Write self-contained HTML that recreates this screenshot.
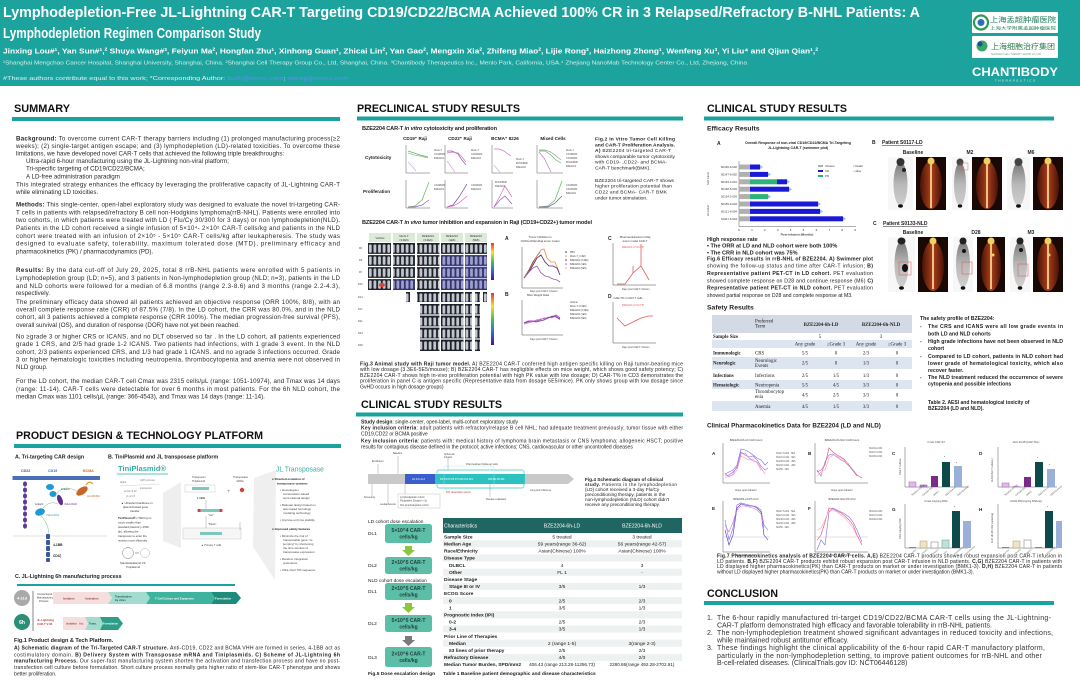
<!DOCTYPE html>
<html><head><meta charset="utf-8">
<style>
html,body{margin:0;padding:0;background:#fff;}
body{width:1080px;height:694px;overflow:hidden;}
svg{display:block;font-family:"Liberation Sans",Arial,sans-serif;}
.cjk{font-family:"Liberation Sans","Noto Sans CJK SC",sans-serif;}
.serif{font-family:"Liberation Serif",serif;}
</style></head><body>
<svg width="1080" height="694" viewBox="0 0 1080 694" xmlns="http://www.w3.org/2000/svg">
<defs>
<linearGradient id="cbar" x1="0" y1="0" x2="0" y2="1">
<stop offset="0" stop-color="#e8382c"/><stop offset=".25" stop-color="#f5e02a"/><stop offset=".5" stop-color="#4cc24c"/><stop offset=".75" stop-color="#2a6ee0"/><stop offset="1" stop-color="#3a1a8a"/></linearGradient>
<pattern id="m1" x="368" y="243" width="4.6" height="12" patternUnits="userSpaceOnUse"><rect width="4.6" height="12" fill="#1f222a"/><rect x=".9" y="1.4" width="2.8" height="8.4" rx="1.3" fill="#c0c5ce"/></pattern>
<pattern id="m2" x="368" y="292" width="4.6" height="12" patternUnits="userSpaceOnUse"><rect width="4.6" height="12" fill="#1f222a"/><rect x=".9" y="1.4" width="2.8" height="8.4" rx="1.3" fill="#c0c5ce"/></pattern>
<linearGradient id="gb" x1="0" y1="0" x2="0" y2="1"><stop offset="0" stop-color="#777"/><stop offset=".5" stop-color="#b8b8b8"/><stop offset="1" stop-color="#cfcfcf"/></linearGradient>
<linearGradient id="rb" x1="0" y1="0" x2="1" y2="0"><stop offset="0" stop-color="#4a1206"/><stop offset=".5" stop-color="#a8401c"/><stop offset="1" stop-color="#4a1206"/></linearGradient>
</defs>

<!-- HEADER -->
<rect x="0" y="0" width="1080" height="86" fill="#1ca39e"/>
<text x="3" y="17" font-size="14.5" font-weight="bold" fill="#fff" textLength="917" lengthAdjust="spacingAndGlyphs">Lymphodepletion-Free JL-Lightning CAR-T Targeting CD19/CD22/BCMA Achieved 100% CR in 3 Relapsed/Refractory B-NHL Patients: A</text>
<text x="3" y="38" font-size="14.5" font-weight="bold" fill="#fff" textLength="258" lengthAdjust="spacingAndGlyphs">Lymphodepletion Regimen Comparison Study</text>
<text x="3" y="53.5" font-size="7.6" font-weight="bold" fill="#fff" textLength="815" lengthAdjust="spacingAndGlyphs">Jinxing Lou#¹, Yan Sun#¹,² Shuya Wang#³, Feiyun Ma², Hongfan Zhu¹, Xinhong Guan¹, Zhicai Lin², Yan Gao², Mengxin Xia², Zhifeng Miao², Lijie Rong³, Haizhong Zhong¹, Wenfeng Xu³, Yi Liu⁴ and Qijun Qian¹,²</text>
<text x="3" y="64.5" font-size="5.2" fill="#d6efec" textLength="744" lengthAdjust="spacingAndGlyphs">¹Shanghai Mengchao Cancer Hospital, Shanghai University, Shanghai, China. ²Shanghai Cell Therapy Group Co., Ltd, Shanghai, China. ³Chantibody Therapeutics Inc., Menlo Park, California, USA.⁴ Zhejiang NanoMab Technology Center Co., Ltd, Zhejiang, China</text>
<text x="3" y="80" font-size="5.2" fill="#e0f3f1" textLength="345" lengthAdjust="spacingAndGlyphs">#These authors contribute equal to this work; *Corresponding Author: <tspan fill="#5d8ff0">liuxh@xxxxx.com</tspan>; <tspan fill="#5d8ff0">qianqj@xxxxx.com</tspan></text>
<!-- logos -->
<rect x="972" y="12" width="86" height="21" fill="#fff" rx="1"/>
<circle cx="981" cy="22.5" r="7" fill="none" stroke="#2a9a5a" stroke-width="2.2"/>
<circle cx="981" cy="22.5" r="3.5" fill="#2c6fb5"/>
<text x="990" y="22" font-size="7" fill="#1b7a55" class="cjk" textLength="66" lengthAdjust="spacingAndGlyphs">上海孟超肿瘤医院</text>
<text x="990" y="29.5" font-size="4" fill="#1b7a55" class="cjk" textLength="66" lengthAdjust="spacingAndGlyphs">上海大学附属孟超肿瘤医院</text>
<rect x="972" y="36" width="86" height="22" fill="#fff" rx="1"/>
<circle cx="982" cy="46" r="5.5" fill="#3aa66a"/><circle cx="980" cy="44" r="2.5" fill="#1f4f8f"/>
<text x="991" y="49" font-size="7.5" fill="#2a7a4a" class="cjk" textLength="64" lengthAdjust="spacingAndGlyphs">上海细胞治疗集团</text>
<text x="991" y="55" font-size="3" fill="#6a9a7a" textLength="50" lengthAdjust="spacingAndGlyphs">SHANGHAI CELL THERAPY GROUP CO.,LTD</text>
<text x="972" y="76" font-size="11.5" font-weight="bold" fill="#fff" textLength="86" lengthAdjust="spacingAndGlyphs">CHANTIBODY</text>
<text x="995" y="81.5" font-size="3" fill="#e6f6f4" textLength="40" lengthAdjust="spacing">THERAPEUTICS</text>

<!-- SECTION HEADINGS -->
<g font-weight="bold" font-size="11" fill="#111">
<text x="14" y="112" textLength="56" lengthAdjust="spacingAndGlyphs">SUMMARY</text>
<text x="16" y="439" textLength="247" lengthAdjust="spacingAndGlyphs">PRODUCT DESIGN &amp; TECHNOLOGY PLATFORM</text>
<text x="357" y="112" textLength="163" lengthAdjust="spacingAndGlyphs">PRECLINICAL STUDY RESULTS</text>
<text x="361" y="408" textLength="141" lengthAdjust="spacingAndGlyphs">CLINICAL STUDY RESULTS</text>
<text x="707" y="112" textLength="140" lengthAdjust="spacingAndGlyphs">CLINICAL STUDY RESULTS</text>
<text x="707" y="597" textLength="71" lengthAdjust="spacingAndGlyphs">CONCLUSION</text>
</g>
<g fill="#1aa39e">
<rect x="12" y="117" width="328" height="4"/>
<rect x="14" y="444" width="327" height="4"/>
<rect x="357" y="116.5" width="326" height="4"/>
<rect x="356" y="412.5" width="327" height="4"/>
<rect x="704" y="116.5" width="350" height="4"/>
<rect x="704" y="601" width="350" height="4"/>
</g>

<!-- SUMMARY TEXT -->
<g font-size="6.2" fill="#2a2a2a">
<text x="16" y="140.5" textLength="324" lengthAdjust="spacing"><tspan font-weight="bold">Background:</tspan> To overcome current CAR-T therapy barriers including (1) prolonged manufacturing process(≥2</text>
<text x="16" y="148.2" textLength="324" lengthAdjust="spacing">weeks); (2) single-target antigen escape; and (3) lymphodepletion (LD)-related toxicities. To overcome these</text>
<text x="16" y="155.5">limitations, we have developed novel CAR-T cells that achieved the following triple breakthroughs:</text>
<text x="26" y="162.9">Ultra-rapid 6-hour manufacturing using the JL-Lightning non-viral platform;</text>
<text x="26" y="170.5">Tri-specific targeting of CD19/CD22/BCMA;</text>
<text x="26" y="178.5">A LD-free administration paradigm</text>
<text x="16" y="186.5" textLength="324" lengthAdjust="spacing">This integrated strategy enhances the efficacy by leveraging the proliferative capacity of JL-Lightning CAR-T</text>
<text x="16" y="193.9">while eliminating LD toxicities.</text>

<text x="16" y="206.5" textLength="324" lengthAdjust="spacing"><tspan font-weight="bold">Methods:</tspan> This single-center, open-label exploratory study was designed to evaluate the novel tri-targeting CAR-</text>
<text x="16" y="214.4" textLength="324" lengthAdjust="spacing">T cells in patients with relapsed/refractory B cell non-Hodgkins lymphoma(rrB-NHL). Patients were enrolled into</text>
<text x="16" y="222.2" textLength="324" lengthAdjust="spacing">two cohorts, in which patients were treated with LD ( Flu/Cy 30/300 for 3 days) or non lymphodepletion(NLD).</text>
<text x="16" y="230" textLength="324" lengthAdjust="spacing">Patients in the LD cohort received a single infusion of 5×10⁴- 2×10⁵ CAR-T cells/kg and patients in the NLD</text>
<text x="16" y="237.9" textLength="324" lengthAdjust="spacing">cohort were treated with an infusion of 2×10⁵ - 5×10⁵ CAR-T cells/kg after leukapheresis. The study was</text>
<text x="16" y="245.7" textLength="324" lengthAdjust="spacing">designed to evaluate safety, tolerability, maximum tolerated dose (MTD), preliminary efficacy and</text>
<text x="16" y="253.5">pharmacokinetics (PK) / pharmacodynamics (PD).</text>

<text x="16" y="272.2" textLength="324" lengthAdjust="spacing"> <tspan font-weight="bold">Results:</tspan> By the data cut-off of July 29, 2025, total 8 rrB-NHL patients were enrolled with 5 patients in</text>
<text x="16" y="280" textLength="324" lengthAdjust="spacing">Lymphodepletion group (LD; n=5), and 3 patients in Non-lymphodepletion group (NLD; n=3), patients in the LD</text>
<text x="16" y="287.9" textLength="324" lengthAdjust="spacing">and NLD cohorts were followed for a median of 6.8 months (range 2.3-8.6) and 3 months (range 2.2-4.3),</text>
<text x="16" y="295.2">respectively.</text>

<text x="16" y="303.9" textLength="324" lengthAdjust="spacing">The preliminary efficacy data showed all patients achieved an objective response (ORR 100%, 8/8), with an</text>
<text x="16" y="311.5" textLength="324" lengthAdjust="spacing">overall complete response rate (CRR) of 87.5% (7/8). In the LD cohort, the CRR was 80.0%, and in the NLD</text>
<text x="16" y="319.2" textLength="324" lengthAdjust="spacing">cohort, all 3 patients achieved a complete response (CRR 100%). The median progression-free survival (PFS),</text>
<text x="16" y="326.9">overall survival (OS), and duration of response (DOR) have not yet been reached.</text>

<text x="16" y="338.5" textLength="324" lengthAdjust="spacing">No ≥grade 3 or higher CRS or ICANS, and no DLT observed so far . In the LD cohort, all patients experienced</text>
<text x="16" y="346.2" textLength="324" lengthAdjust="spacing">grade 1 CRS, and 2/5 had grade 1-2 ICANS. Two patients had infections, with 1 grade 3 event. In the NLD</text>
<text x="16" y="353.9" textLength="324" lengthAdjust="spacing">cohort, 2/3 patients experienced CRS, and 1/3 had grade 1 ICANS. and no ≥grade 3 infections occurred. Grade</text>
<text x="16" y="361.5" textLength="324" lengthAdjust="spacing">3 or higher hematologic toxicities including neutropenia, thrombocytopenia and anemia were not observed in</text>
<text x="16" y="369.2">NLD group.</text>

<text x="16" y="383.2" textLength="324" lengthAdjust="spacing">For the LD cohort, the median CAR-T cell Cmax was 2315 cells/μL (range: 1051-10974), and Tmax was 14 days</text>
<text x="16" y="390.9" textLength="324" lengthAdjust="spacing">(range: 11-14). CAR-T cells were detectable for over 6 months in most patients. For the 6h NLD cohort, the</text>
<text x="16" y="398.5">median Cmax was 1101 cells/μL (range: 366-4543), and Tmax was 14 days (range: 11-14).</text>
</g>

<!-- PRODUCT DESIGN FIGURE -->
<g font-weight="bold" font-size="5.3" fill="#222">
<text x="15" y="458.5">A.  Tri-targeting CAR design</text>
<text x="108" y="458.5">B.  TiniPlasmid and JL transposase platform</text>
<text x="15" y="578">C.  JL-Lightning 6h manufacturing process</text>
</g>
<line x1="13" y1="536" x2="107" y2="536" stroke="#e2e2e2" stroke-width="1"/>
<rect x="12.5" y="476" width="87.5" height="4" fill="#4a6fb8"/>
<text x="21" y="472" font-size="3.6" fill="#6a3aa0" font-weight="bold">CD22</text>
<text x="48" y="472" font-size="3.6" fill="#3a6ac0" font-weight="bold">CD19</text>
<text x="83" y="472" font-size="3.6" fill="#d06a20" font-weight="bold">BCMA</text>
<g fill="#5a3a9c">
<ellipse cx="25" cy="484" rx="2" ry="2.6"/><ellipse cx="25" cy="490" rx="2" ry="2.6"/><ellipse cx="25" cy="496" rx="2" ry="2.6"/><ellipse cx="25" cy="502" rx="2" ry="2.6"/><ellipse cx="25" cy="508" rx="2" ry="2.6"/><ellipse cx="25" cy="514" rx="2" ry="2.6"/><ellipse cx="25" cy="520" rx="2" ry="2.6"/><ellipse cx="25" cy="526" rx="2" ry="2.6"/>
</g>
<ellipse cx="50" cy="487" rx="4" ry="3" fill="#1e9ad6"/>
<ellipse cx="53" cy="494" rx="3.5" ry="3" fill="#1e9ad6"/>
<ellipse cx="60" cy="500" rx="2.5" ry="5.5" fill="#5b2d8c" transform="rotate(-20 60 500)"/>
<ellipse cx="82" cy="491" rx="6.5" ry="3.5" fill="#c8662a" transform="rotate(-35 82 491)"/>
<path d="M86 485 q3 -5 7 -1" stroke="#e0a030" stroke-width="1.2" fill="none"/>
<ellipse cx="40" cy="512" rx="5" ry="3.5" fill="#1e9ad6" transform="rotate(-20 40 512)"/>
<path d="M55 497 Q62 482 78 492 M43 508 Q50 500 58 504 M40 515 Q50 525 48 534" stroke="#8ec9a8" stroke-width=".6" fill="none"/>
<text x="61" y="490" font-size="2.6" fill="#333">Linker2</text>
<text x="35" y="505" font-size="2.6" fill="#333">Linker1</text>
<text x="87" y="497" font-size="2.6" fill="#c8662a">Anti-BCMA</text>
<text x="64" y="505" font-size="2.6" fill="#5b2d8c">VHH-CD22</text>
<text x="46" y="516" font-size="2.6" fill="#1e9ad6">VHH-CD19</text>
<g fill="#3a5a9c"><rect x="46" y="534" width="4" height="5" rx="1"/><rect x="46" y="540" width="4" height="5" rx="1"/><rect x="46" y="546" width="4" height="5" rx="1"/><rect x="46" y="552" width="4" height="5" rx="1"/><rect x="46" y="558" width="4" height="4" rx="1"/></g>
<text x="53" y="546" font-size="3.3" fill="#223" font-weight="bold">4-1BB</text>
<text x="53" y="557" font-size="3.3" fill="#223" font-weight="bold">CD3ζ</text>
<text x="118" y="471" font-size="7.5" fill="#37aca2" font-weight="bold" textLength="48" lengthAdjust="spacingAndGlyphs">TiniPlasmid®</text>
<line x1="117" y1="474" x2="168" y2="474" stroke="#37aca2" stroke-width=".8"/>
<g font-size="2.4" fill="#777">
<text x="120" y="483">Alpha</text><text x="140" y="481">GFP promoter</text><text x="140" y="489">transposon</text>
<text x="124" y="492">a1 b2 c3  d4</text><text x="126" y="497">x1  y2  z3</text>
</g>
<line x1="120" y1="486" x2="160" y2="484" stroke="#aaa" stroke-width=".3"/>
<g font-size="2.8" fill="#333">
<text x="121" y="504">▲ Ultrashort backbone in</text><text x="123" y="508">plasmid based gene</text><text x="130" y="512">transfer</text>
<text x="118" y="519"><tspan font-weight="bold">TiniPlasmid®</tspan> (&lt;500 bp) is</text>
<text x="118" y="523.5">much smaller than</text><text x="118" y="528">standard plasmid (~1500</text><text x="118" y="532.5">bp), allowing the</text><text x="118" y="537">transposon to enter the</text><text x="118" y="541.5">nucleus more efficiently.</text>
<text x="120" y="564">Standardplasmid VS</text><text x="126" y="568">Tiniplasmid</text>
</g>
<circle cx="128" cy="553" r="5.5" fill="none" stroke="#555" stroke-width=".4"/>
<circle cx="145" cy="553" r="4.5" fill="none" stroke="#8a8" stroke-width=".4"/>
<line x1="135" y1="553" x2="139" y2="553" stroke="#555" stroke-width=".5"/>
<polygon points="163,493 181,482 181,548 163,541" fill="#eeeeee"/>
<g font-size="2.6" fill="#444">
<text x="192" y="478">Transposon</text><text x="192" y="482">Tiniplasmid</text>
<text x="233" y="478">Transposase</text><text x="236" y="482">mRNA</text>
<text x="197" y="499" font-weight="bold">1-10kb</text><text x="208" y="516">"Cut"</text><text x="208" y="525">"Paste"</text>
<text x="201" y="546">▲ Primary T cells</text>
</g>
<rect x="185" y="485" width="30" height="7" fill="#fff" stroke="#bbb" stroke-width=".4"/>
<rect x="192" y="487" width="17" height="3" fill="#7cc8bc"/>
<text x="227" y="493" font-size="6" fill="#888">+</text>
<circle cx="242" cy="490" r="2.2" fill="#d04040"/>
<line x1="206" y1="500" x2="206" y2="510" stroke="#888" stroke-width=".4"/>
<rect x="199" y="509" width="22" height="3" fill="#7cc8bc"/><circle cx="199" cy="510.5" r="1.6" fill="#d04040"/><circle cx="221" cy="510.5" r="1.6" fill="#d04040"/>
<line x1="206" y1="516" x2="206" y2="528" stroke="#888" stroke-width=".4"/>
<rect x="183" y="528" width="58" height="11" fill="#f6f6f6" stroke="#bbb" stroke-width=".4"/>
<rect x="200" y="532" width="22" height="3" fill="#7cc8bc"/>
<line x1="240" y1="522" x2="240" y2="530" stroke="#888" stroke-width=".4"/>
<polygon points="253,547 275,580 276,470 254,478" fill="#efefef"/>
<text x="276" y="471.5" font-size="7" fill="#37aca2" textLength="48" lengthAdjust="spacingAndGlyphs">JL Transposase</text>
<g font-size="3" fill="#444">
<text x="272" y="480" font-weight="bold" fill="#222">● Directed evolution of</text>
<text x="277" y="484.5" font-weight="bold" fill="#222">transposase systems</text>
<text x="280" y="491">• Homologous</text><text x="283" y="495">conservation-based</text><text x="283" y="499">semi-rational design</text>
<text x="280" y="506">• Rational design based on</text><text x="283" y="510">automated homology</text><text x="283" y="514">modeling technology</text>
<text x="280" y="521">• Improve enzyme stability</text>
<text x="272" y="530" font-weight="bold" fill="#222">● Improved safety features</text>
<text x="280" y="537">• Minimize the risk of</text><text x="283" y="541">transposable gene "re-</text><text x="283" y="545">jumping" by shortening</text><text x="283" y="549">the time window of</text><text x="283" y="553">transposase expression</text>
<text x="280" y="560">• Random integration</text><text x="283" y="564">preference</text>
<text x="280" y="571">• Ultra-short TIR sequence</text>
</g>
<rect x="17" y="584" width="218" height="2" fill="#1aa39e"/>
<line x1="33" y1="591" x2="33" y2="631" stroke="#333" stroke-width=".6"/>
<circle cx="22" cy="598" r="8" fill="#a9a9a9"/><text x="22" y="599.5" font-size="4" fill="#fff" text-anchor="middle" font-weight="bold">4-11d</text>
<circle cx="22" cy="622" r="8" fill="#2b8f78"/><text x="22" y="623.8" font-size="5" fill="#fff" text-anchor="middle" font-weight="bold">6h</text>
<g font-size="2.6" fill="#333"><text x="37" y="595">Conventional</text><text x="37" y="598.5">Manufacturing</text><text x="39" y="602">Process</text></g>
<g font-size="2.8" fill="#d03030" font-weight="bold"><text x="37" y="621">JL-Lightning</text><text x="37" y="625">CAR-T V-06</text></g>
<polygon points="53,592 108,592 112,598 108,604 53,604" fill="#f5dede"/>
<polygon points="108,592 146,592 150,598 146,604 108,604 112,598" fill="#a3dccf"/>
<polygon points="146,592 211,592 215,598 211,604 146,604 150,598" fill="#3fb39d"/>
<polygon points="211,592 236,592 241,598 236,604 211,604 215,598" fill="#1d8c7a"/>
<g font-size="2.8" fill="#8a4040" font-weight="bold"><text x="63" y="599.5">Isolation</text><text x="85" y="599.5">Activation</text></g>
<g font-size="2.8" fill="#1f4f48" font-weight="bold"><text x="115" y="597.5">Transfection</text><text x="115" y="601">by virus</text><text x="155" y="599.5" fill="#fff">T Cell Culture and Expansion</text><text x="215" y="599.5" fill="#fff">Formulation</text></g>
<polygon points="63,617 85,617 88,623.5 85,630 63,630" fill="#f5dede"/>
<polygon points="85,617 100,617 103,623.5 100,630 85,630 88,623.5" fill="#a3dccf"/>
<polygon points="100,617 118,617 123,623.5 118,630 100,630 103,623.5" fill="#2e9e88"/>
<g font-size="2.6" font-weight="bold"><text x="66" y="624.5" fill="#8a4040">Isolation</text><text x="79" y="624.5" fill="#c04040">Act.</text><text x="89" y="624.5" fill="#1f4f48">Trans.</text><text x="103" y="624.5" fill="#fff">Formulation</text></g>
<g font-size="5.1" fill="#222">
<text x="14" y="642" font-weight="bold" font-size="5.5">Fig.1 Product design &amp; Tech Platform.</text>
<text x="14" y="649.7" textLength="326" lengthAdjust="spacing"> <tspan font-weight="bold">A) Schematic diagram of the Tri-Targeted CAR-T structure.</tspan> Anti-CD19, CD22 and BCMA VHH are formed in series, 4-1BB act as</text>
<text x="14" y="656.3" textLength="326" lengthAdjust="spacing">costimulatory domain. <tspan font-weight="bold">B) Delivery System with Transposase mRNA  and Tiniplasmids.  C) Scheme of JL-Lightning 6h</tspan></text>
<text x="14" y="662.7" textLength="326" lengthAdjust="spacing"><tspan font-weight="bold">manufacturing Process.</tspan> Our super-fast manufacturing system shorten the activation and transfection process and have no post-</text>
<text x="14" y="669" textLength="326" lengthAdjust="spacing">transfection cell culture before formulation. Short culture process normally gets higher ratio of stem-like CAR-T phenotype and shows</text>
<text x="14" y="675.3">better proliferation.</text>
</g>

<!-- PRECLINICAL -->
<text x="362" y="130" font-size="5.6" font-weight="bold" fill="#222" textLength="135" lengthAdjust="spacing">BZE2204 CAR-T <tspan font-style="italic">in vitro</tspan> cytotoxicity and proliferation</text>
<g font-size="4.6" font-weight="bold" fill="#222" text-anchor="middle">
<text x="415" y="140">CD19⁺ Raji</text><text x="460" y="140">CD22⁺ Raji</text><text x="505" y="140">BCMA⁺ 8226</text><text x="553" y="140">Mixed Cells</text>
</g>
<g font-size="4.6" font-weight="bold" fill="#222"><text x="365" y="159">Cytotoxicity</text><text x="363" y="193">Proliferation</text></g>
<g stroke="#333" stroke-width=".4" fill="none">
<path d="M406 145 V173 H430 M445 145 V173 H468 M492 145 V173 H513 M537 145 V173 H563"/>
<path d="M406 180 V208 H430 M445 180 V208 H468 M492 180 V208 H513 M537 180 V208 H563"/>
</g>
<g fill="none" stroke-width=".7">
<polyline points="408,151 414,153 420,155 428,157" stroke="#5cb85c"/>
<polyline points="408,153 414,155 420,156 428,158" stroke="#8fbf8f"/>
<polyline points="408,162 412,166 416,171" stroke="#c9b0dc"/>
<polyline points="447,151 452,151 458,154 462,160 466,165" stroke="#9b59b6"/>
<polyline points="447,153 452,152 458,153 462,157 466,162" stroke="#d070c0"/>
<polyline points="447,161 452,168 455,172" stroke="#c9b0dc"/>
<polyline points="494,149 499,149 504,151 508,154 511,156" stroke="#d070c0"/>
<polyline points="494,165 498,170 500,172" stroke="#c9b0dc"/>
<polyline points="539,150 545,150 551,152 556,156 561,160" stroke="#999"/>
<polyline points="539,151 545,151 551,155 556,160 561,163" stroke="#5cb85c"/>
<polyline points="539,152 544,158 548,166 551,172" stroke="#c070d0"/>
<polyline points="408,207 415,206 422,200 429,182" stroke="#5cb85c"/>
<polyline points="408,207 415,207 422,205 429,200" stroke="#9b59b6"/>
<polyline points="447,207 453,205 459,197 467,184" stroke="#7b3fb0"/>
<polyline points="447,207 453,206 459,203 467,196" stroke="#d070c0"/>
<polyline points="494,207 500,196 505,186 512,197" stroke="#d070c0"/>
<polyline points="494,207 500,200 505,196 512,204" stroke="#9b59b6"/>
<polyline points="539,207 548,206 555,200 562,181" stroke="#5cb85c"/>
<polyline points="539,207 548,207 555,203 562,196" stroke="#7b3fb0"/>
</g>
<g font-size="2.4" fill="#555">
<text x="434" y="151">Mock-T</text><text x="434" y="155">CD19BMK</text><text x="434" y="159">BZE2204</text>
<text x="471" y="151">Mock-T</text><text x="471" y="155">CD22BMK</text><text x="471" y="159">BZE2204</text>
<text x="516" y="160">Mock-T</text><text x="516" y="164">BCMABMK</text><text x="516" y="168">BZE2204</text>
<text x="566" y="151">Mock-T</text><text x="566" y="155">CD19BMK</text><text x="566" y="159">CD22BMK</text><text x="566" y="163">BCMABMK</text><text x="566" y="167">BZE2204</text>
<text x="434" y="186">CD19BMK</text><text x="434" y="190">BZE2204</text>
<text x="471" y="186">CD22BMK</text><text x="471" y="190">BZE2204</text>
<text x="495" y="183">BCMABMK</text><text x="495" y="187">BZE2204</text>
<text x="566" y="186">CD19BMK</text><text x="566" y="190">CD22BMK</text><text x="566" y="194">BZE2204</text>
</g>
<g font-size="4.9" fill="#222">
<text x="595" y="140.3" font-weight="bold" textLength="80" lengthAdjust="spacing">Fig.2 In Vitro Tumor Cell Killing</text>
<text x="595" y="146.3" font-weight="bold" textLength="80" lengthAdjust="spacing">and CAR-T Proliferation Analysis.</text>
<text x="595" y="152" textLength="76" lengthAdjust="spacing"><tspan font-weight="bold">A)</tspan> BZE2204 tri-targeted CAR-T</text>
<text x="595" y="158" textLength="80" lengthAdjust="spacing">shows comparable tumor cytotoxicity</text>
<text x="595" y="163.7" textLength="72" lengthAdjust="spacing">with CD19- ,CD22- and BCMA-</text>
<text x="595" y="169.7">CAR-T benchmark(BMK).</text>
<text x="595" y="182" textLength="79" lengthAdjust="spacing">BZE2204 tri-targeted CAR-T shows</text>
<text x="595" y="187.7" textLength="77" lengthAdjust="spacing">higher proliferation potential than</text>
<text x="595" y="193.7" textLength="72" lengthAdjust="spacing">CD22 and BCMA- CAR-T BMK</text>
<text x="595" y="199.7">under tumor stimulation.</text>
</g>
<text x="362" y="224" font-size="5.6" font-weight="bold" fill="#222" textLength="230" lengthAdjust="spacing">BZE2204 CAR-T <tspan font-style="italic">in vivo</tspan> tumor inhibition and expansion in Raji (CD19+CD22+) tumor model</text>
<g fill="#dcebd8">
<rect x="369" y="233" width="22" height="9"/><rect x="393" y="233" width="22" height="9"/><rect x="417" y="233" width="22" height="9"/><rect x="441" y="233" width="22" height="9"/><rect x="465" y="233" width="22" height="9"/>
</g>
<g font-size="2.8" fill="#333" text-anchor="middle">
<text x="380" y="238.8">Vehicle</text><text x="404" y="237">Mock-T</text><text x="404" y="240.8">(3.3E6)</text><text x="428" y="237">BZE2204</text><text x="428" y="240.8">(3.3E6)</text><text x="452" y="237">BZE2204</text><text x="452" y="240.8">(1E6)</text><text x="476" y="237">BZE2204</text><text x="476" y="240.8">(5E5)</text>
</g>
<g fill="url(#m1)">
<rect x="368" y="243" width="23" height="47"/><rect x="393" y="243" width="22" height="47"/><rect x="417" y="243" width="22.5" height="47"/><rect x="441" y="243" width="22.5" height="47"/><rect x="465" y="243" width="22" height="47"/>
</g>
<g stroke="#fff" stroke-width="1.2"><line x1="366" y1="254.5" x2="489" y2="254.5"/><line x1="366" y1="266.5" x2="489" y2="266.5"/><line x1="366" y1="278.5" x2="489" y2="278.5"/></g>
<g fill="#5a58d8" opacity=".35"><rect x="441" y="255" width="22.5" height="35"/><rect x="465" y="255" width="22" height="35"/><rect x="393" y="279" width="22" height="11"/></g>
<ellipse cx="382" cy="285" rx="3" ry="2" fill="#e04030"/>
<g fill="url(#m2)">
<rect x="406" y="292" width="4" height="10"/>
<rect x="417" y="292" width="22.5" height="10"/><rect x="441" y="292" width="22.5" height="10"/><rect x="465" y="292" width="7" height="10"/><rect x="475" y="292" width="5" height="10"/><rect x="483" y="292" width="4" height="10"/>
<rect x="420" y="304" width="19.5" height="47"/><rect x="441" y="304" width="22.5" height="47"/><rect x="465" y="304" width="7" height="47"/><rect x="475" y="304" width="5" height="47"/>
</g>
<g stroke="#fff" stroke-width="1.2"><line x1="415" y1="303" x2="489" y2="303"/><line x1="415" y1="315" x2="489" y2="315"/><line x1="415" y1="327" x2="489" y2="327"/><line x1="415" y1="339" x2="489" y2="339"/></g>
<g font-size="2.5" fill="#444"><text x="359" y="249">D0</text><text x="359" y="261">D3</text><text x="359" y="273">D7</text><text x="358" y="285">D10</text><text x="358" y="298">D14</text><text x="358" y="310">D17</text><text x="358" y="322">D21</text><text x="358" y="334">D24</text><text x="358" y="346">D28</text></g>
<rect x="491" y="243" width="3" height="37" fill="url(#cbar)"/>
<rect x="491" y="293" width="3" height="52" fill="url(#cbar)"/>
<g font-size="5" font-weight="bold" fill="#222"><text x="505" y="240">A</text><text x="505" y="296">B</text><text x="608" y="240">C</text><text x="608" y="298">D</text></g>
<g font-size="2.8" fill="#333" text-anchor="middle"><text x="540" y="238">Tumor Inhibition in</text><text x="540" y="242">CD19+CD22+Raji tumor model</text><text x="538" y="296">Mice Weight Data</text><text x="635" y="238">Pharmacokinetics in Raji</text><text x="635" y="242">tumor model   CAR-T</text><text x="628" y="299">CAR-T% in CD3 T cells</text></g>
<g stroke="#333" stroke-width=".45" fill="none">
<path d="M522 247 V288 H563"/><path d="M522 300 V335 H563"/><path d="M613 243 V285 H656"/><path d="M613 302 V343 H656"/>
</g>
<g fill="none" stroke-width=".8">
<polyline points="524,278 529,270 533,262 537,256 540,252" stroke="#222"/>
<polyline points="524,278 529,271 533,263 537,256 541,250 544,249 547,258 551,262 555,262 559,272" stroke="#f08a3a"/>
<polyline points="524,278 529,272 533,265 537,258 541,255 545,262 549,266 553,266 557,268 560,275" stroke="#4a2a7a"/>
<polyline points="524,278 529,272 533,268 537,266 541,273 545,276 549,277 553,279 557,280 560,282" stroke="#9b59b6"/>
<polyline points="524,323 528,322 532,321 536,321 540,320 544,318 548,318 552,317 556,315 560,318" stroke="#a040c0"/>
<polyline points="524,324 528,323 532,322 536,320 540,319 544,319 548,317 552,318 556,316 560,320" stroke="#e070d0"/>
<polyline points="524,323 528,321 532,321 536,322 540,321 544,320 548,318 552,316 556,317 560,319" stroke="#6a3aa0"/>
<polyline points="617,284 625,284 633,273 641,266 649,280" stroke="#e85a5a"/>
<line x1="641" y1="244" x2="641" y2="266" stroke="#e85a5a"/><line x1="633" y1="266" x2="633" y2="273" stroke="#e85a5a"/>
<polyline points="617,318 625,326 633,322 641,318 649,316 653,316" stroke="#e85a5a"/>
</g>
<g font-size="2.4" fill="#444">
<text x="570" y="253">PBS</text><text x="570" y="257">Mock-T_3.3E6</text><text x="570" y="261">BZE2204 (3.3E6)</text><text x="570" y="265">BZE2204 (1E6)</text><text x="570" y="269">BZE2204 (5E5)</text>
<text x="570" y="303">Vehicle</text><text x="570" y="307">Mock-T (3.3E6)</text><text x="570" y="311">BZE2204 (3.3E6)</text><text x="570" y="315">BZE2204 (1E6)</text><text x="570" y="319">BZE2204 (5E5)</text>
<text x="622" y="248" fill="#e85a5a">BZE2204 (2.5×10^5)</text><text x="622" y="306" fill="#e85a5a">BZE2204 (2.5×10^5)</text>
<text x="530" y="292">Days post CAR-T infusion</text><text x="530" y="340">Days post CAR-T infusion</text>
<text x="622" y="290">Days post CAR-T infusion</text><text x="622" y="348">Days post CAR-T infusion</text>
</g>
<g fill="#333"><circle cx="566" cy="252" r=".8"/><circle cx="566" cy="256" r=".8" fill="#f08a3a"/><circle cx="566" cy="260" r=".8" fill="#4a2a7a"/><circle cx="566" cy="264" r=".8" fill="#9b59b6"/><circle cx="566" cy="268" r=".8" fill="#f0a060"/></g>
<g font-size="5.1" fill="#222">
<text x="360" y="365.3" textLength="323" lengthAdjust="spacing"><tspan font-weight="bold">Fig.3 Animal study with Raji tumor model.</tspan>  A) BZE2204 CAR-T conferred high antigen specific killing on Raji tumor-bearing mice</text>
<text x="360" y="371" textLength="323" lengthAdjust="spacing">with low dosage (3.3E6-5E5/mouse); B) BZE2204 CAR-T has negligible effects on mice weight, which shows good safety potency; C)</text>
<text x="360" y="376.8" textLength="323" lengthAdjust="spacing">BZE2204 CAR-T shows high in-vivo proliferation potential with high PK value with low dosage; D) CAR-T% in CD3 demonstrates the</text>
<text x="360" y="382.5" textLength="323" lengthAdjust="spacing">proliferation in panel C is antigen specific (Representative data from dosage 5E5/mice).   PK only shows group with low dosage since</text>
<text x="360" y="388.5">GvHD occurs in high dosage groups)</text>
</g>

<!-- CLINICAL MIDDLE -->
<g font-size="5" fill="#222">
<text x="361" y="423.5"><tspan font-weight="bold">Study design</tspan>: single-center, open-label, multi-cohort exploratory study</text>
<text x="361" y="429.5" textLength="322" lengthAdjust="spacing"><tspan font-weight="bold">Key inclusion criteria</tspan>: adult patients with refractory/relapse B cell NHL; had adequate treatment previously; tumor tissue with either</text>
<text x="361" y="435.3">CD19,CD22 or BCMA positive</text>
<text x="361" y="442.5" textLength="322" lengthAdjust="spacing"><tspan font-weight="bold">Key inclusion criteria</tspan>: patients with: medical history of lymphoma brain metastasis or CNS lymphoma; allogeneic HSCT;  positive</text>
<text x="361" y="448.5">results for contagious disease defined in the protocol; active infections; CNS, cardiovascular or other uncontrolled diseases</text>
</g>
<rect x="368" y="474" width="37" height="10" fill="#c9c9c9"/>
<rect x="405" y="474" width="30" height="10" fill="#3a5fcd"/>
<rect x="435" y="474" width="90" height="10" fill="#2cc2c0"/>
<polygon points="525,474 568,474 574,479 568,484 525,484" fill="#c9c9c9"/>
<rect x="437" y="470" width="87" height="18" rx="2" fill="none" stroke="#3cc9c4" stroke-width=".7"/>
<rect x="444" y="466" width="50" height="23" rx="1" fill="none" stroke="#9ee" stroke-width=".4"/>
<g font-size="2.4" fill="#fff"><text x="412" y="480">LD D-5~D-3</text><text x="440" y="480">D0  D1  D3  D5  D7  D10  D14  D21</text><text x="488" y="480">D28  M2  M3  M6</text></g>
<g stroke="#777" stroke-width=".35"><line x1="378" y1="474" x2="378" y2="464"/><line x1="398" y1="474" x2="398" y2="456"/><line x1="448" y1="470" x2="448" y2="458"/><line x1="372" y1="484" x2="372" y2="496"/><line x1="388" y1="484" x2="388" y2="503"/><line x1="405" y1="484" x2="405" y2="494"/><line x1="490" y1="484" x2="490" y2="497"/></g>
<g font-size="2.4" fill="#444"><text x="372" y="462">Enrollment</text><text x="393" y="454">Baseline</text><text x="444" y="455">Apheresis</text><text x="444" y="458">infusion</text><text x="466" y="465">Post-treatment follow-up visits</text><text x="364" y="498">Screening</text><text x="380" y="505">Leukapheresis</text><text x="530" y="491">Long-term follow-up</text><text x="486" y="500">Disease evaluation</text></g>
<rect x="398" y="494" width="42" height="14" fill="#fff" stroke="#aaa" stroke-width=".35"/>
<g font-size="2.3" fill="#444"><text x="400" y="498">Lymphodepletion cohort</text><text x="400" y="501.5">Fludarabine 30mg/m² x 3d</text><text x="400" y="506">Non-lymphodepletion cohort</text></g>
<g font-size="2.4" fill="#c03030"><text x="446" y="493">DLT observation period</text></g>
<g font-size="4.7" fill="#222">
<text x="585" y="481" font-weight="bold">Fig.4 Schematic diagram of clinical</text>
<text x="585" y="486" textLength="92" lengthAdjust="spacing"><tspan font-weight="bold">study.</tspan>  Patients in the lymphodepletion</text>
<text x="585" y="491">(LD) cohort received a 3-day Flu/Cy</text>
<text x="585" y="496">preconditioning therapy, patients in the</text>
<text x="585" y="501">non-lymphodepletion (NLD) cohort didn't</text>
<text x="585" y="506">receive any preconditioning therapy.</text>
</g>
<g font-size="4.8" fill="#222"><text x="368" y="523">LD cohort dose escalation</text><text x="368" y="582">NLD cohort dose escalation</text>
<text x="368" y="535">DL1</text><text x="368" y="567">DL2</text><text x="368" y="593">DL1</text><text x="368" y="625">DL2</text><text x="368" y="659">DL3</text></g>
<g fill="#5dbea7"><rect x="385" y="524" width="47" height="19" rx="2.5"/><rect x="385" y="557" width="47" height="17" rx="2.5"/><rect x="385" y="583" width="47" height="17" rx="2.5"/><rect x="385" y="615" width="47" height="17" rx="2.5"/><rect x="385" y="647" width="47" height="20" rx="2.5"/></g>
<g font-size="5" font-weight="bold" fill="#1e3d3a" text-anchor="middle">
<text x="408.5" y="532">5×10^4 CAR-T</text><text x="408.5" y="538.5">cells/kg</text>
<text x="408.5" y="564">2×10^5 CAR-T</text><text x="408.5" y="570.5">cells/kg</text>
<text x="408.5" y="590">2×10^5 CAR-T</text><text x="408.5" y="596.5">cells/kg</text>
<text x="408.5" y="622">5×10^5 CAR-T</text><text x="408.5" y="628.5">cells/kg</text>
<text x="408.5" y="655.5">2×10^6 CAR-T</text><text x="408.5" y="662">cells/kg</text>
</g>
<polygon points="405,546 412,546 412,550 415,550 408.5,556 402,550 405,550" fill="#8cc63f"/>
<polygon points="405,603 412,603 412,607 415,607 408.5,613 402,607 405,607" fill="#8cc63f"/>
<polygon points="405,636 412,636 412,640 415,640 408.5,646 402,640 405,640" fill="#7a7a7a"/>
<text x="368" y="675" font-size="4.9" font-weight="bold" fill="#222">Fig.5 Dose escalation design</text>
<rect x="443" y="518" width="239" height="15" fill="#1f6662"/>
<g font-size="5" fill="#fff"><text x="444" y="527.5">Characteristics</text><text x="562" y="527.5" text-anchor="middle">BZE2204-6h-LD</text><text x="642" y="527.5" text-anchor="middle">BZE2204-6h-NLD</text></g>
<g fill="#eef1f1">
<rect x="443" y="540.25" width="239" height="7.1"/><rect x="443" y="554.45" width="239" height="7.1"/><rect x="443" y="568.65" width="239" height="7.1"/><rect x="443" y="582.85" width="239" height="7.1"/><rect x="443" y="597.05" width="239" height="7.1"/><rect x="443" y="611.25" width="239" height="7.1"/><rect x="443" y="625.45" width="239" height="7.1"/><rect x="443" y="639.65" width="239" height="7.1"/><rect x="443" y="653.85" width="239" height="7.1"/>
</g>
<g font-size="4.9" fill="#222">
<g font-weight="bold">
<text x="444" y="538.4">Sample Size</text><text x="444" y="545.5">Median Age</text><text x="444" y="552.6">Race/Ethnicity</text><text x="444" y="559.7">Disease Type</text><text x="449" y="566.8">DLBCL</text><text x="449" y="573.9">Other</text><text x="444" y="581">Disease Stage</text><text x="449" y="588.1">Stage III or IV</text><text x="444" y="595.2">ECOG Score</text><text x="449" y="602.3">0</text><text x="449" y="609.4">1</text><text x="444" y="616.5">Prognostic Index (IPI)</text><text x="449" y="623.6">0-2</text><text x="449" y="630.7">3-4</text><text x="444" y="637.8">Prior Line of Therapies</text><text x="449" y="644.9">Median</text><text x="449" y="652">≥3 lines of prior therapy</text><text x="444" y="659.1">Refractory Disease</text><text x="444" y="666.2">Median Tumor Burden, SPD/mm2</text>
</g>
<g text-anchor="middle">
<text x="562" y="538.4">5 treated</text><text x="642" y="538.4">3 treated</text>
<text x="562" y="545.5">59 years(range 36-62)</text><text x="642" y="545.5">56 years(range 42-57)</text>
<text x="562" y="552.6">Asian(Chinese) 100%</text><text x="642" y="552.6">Asian(Chinese) 100%</text>
<text x="562" y="566.8">4</text><text x="642" y="566.8">3</text>
<text x="562" y="573.9">FL 1</text><text x="642" y="573.9">-</text>
<text x="562" y="588.1">3/5</text><text x="642" y="588.1">1/3</text>
<text x="562" y="602.3">2/5</text><text x="642" y="602.3">2/3</text>
<text x="562" y="609.4">3/5</text><text x="642" y="609.4">1/3</text>
<text x="562" y="623.6">2/5</text><text x="642" y="623.6">2/3</text>
<text x="562" y="630.7">3/5</text><text x="642" y="630.7">1/3</text>
<text x="562" y="644.9">2 (range 1-5)</text><text x="642" y="644.9">3(range 2-3)</text>
<text x="562" y="652">2/5</text><text x="642" y="652">2/3</text>
<text x="562" y="659.1">4/5</text><text x="642" y="659.1">2/3</text>
<text x="562" y="666.2" font-size="4.6">406.43 (range 213.28-11256.73)</text><text x="642" y="666.2" font-size="4.6">2280.86(range 492.28-2702.91)</text>
</g>
</g>
<text x="443" y="675" font-size="4.9" font-weight="bold" fill="#222">Table 1 Baseline patient demographic and disease characteristics</text>

<!-- RIGHT: EFFICACY -->
<text x="707" y="130.5" font-size="6.8" font-weight="bold" fill="#222">Efficacy Results</text>
<text x="717" y="145" font-size="5" font-weight="bold" fill="#222">A</text>
<g font-size="3.6" font-weight="bold" fill="#222" text-anchor="middle"><text x="798" y="144">Overall Response of non-viral CD19/CD22/BCMA Tri-Targeting</text><text x="798" y="149">JL-Lightning CAR-T  (swimmer plot)</text></g>
<g stroke="#333" stroke-width=".4"><line x1="739" y1="161" x2="739" y2="226.5"/><line x1="739" y1="226.5" x2="856" y2="226.5"/></g>
<g fill="#b0b0b0">
<rect x="739" y="164.5" width="11" height="5"/><rect x="739" y="171.9" width="11" height="5"/><rect x="739" y="179.3" width="11" height="5"/><rect x="739" y="186.7" width="11" height="5"/><rect x="739" y="194.1" width="11" height="5"/><rect x="739" y="201.5" width="11" height="5"/><rect x="739" y="208.9" width="11" height="5"/><rect x="739" y="216.3" width="11" height="5"/>
</g>
<g fill="#1a1ad6">
<rect x="750" y="164.5" width="10" height="5"/><rect x="750" y="171.9" width="18" height="5"/><rect x="777" y="179.3" width="10" height="5"/><rect x="750" y="186.7" width="39" height="5"/><rect x="750" y="201.5" width="68" height="5"/><rect x="750" y="208.9" width="70" height="5"/><rect x="750" y="216.3" width="93" height="5"/>
</g>
<g fill="#2db37a"><rect x="750" y="179.3" width="27" height="5"/><rect x="750" y="194.1" width="18" height="5"/></g>
<g fill="#9ab8ea"><polygon points="760,165 763,167 760,169"/><polygon points="768,172.4 771,174.4 768,176.4"/><polygon points="787,179.8 790,181.8 787,183.8"/><polygon points="789,187.2 792,189.2 789,191.2"/><polygon points="768,194.6 771,196.6 768,198.6"/><polygon points="818,202 821,204 818,206"/><polygon points="820,209.4 823,211.4 820,213.4"/><polygon points="843,216.8 846,218.8 843,220.8"/></g>
<g font-size="2.8" fill="#333" text-anchor="end">
<text x="737" y="168">S0136-6-002</text><text x="737" y="175.4">S0147-6-002</text><text x="737" y="182.8">S0133-3-001</text><text x="737" y="190.2">S0138-6-003</text><text x="737" y="197.6">S0134-2-003</text><text x="737" y="205">S0155-6-004</text><text x="737" y="212.4">S0121-6-004</text><text x="737" y="219.8">S0117-6-004</text>
</g>
<g font-size="2.6" fill="#333"><text transform="translate(709 185) rotate(-90)">NLD cohort</text><text transform="translate(709 216) rotate(-90)">LD cohort</text></g>
<g font-size="3" fill="#333" text-anchor="middle">
<text x="739" y="231">0</text><text x="751.9" y="231">1</text><text x="764.8" y="231">2</text><text x="777.7" y="231">3</text><text x="790.6" y="231">4</text><text x="803.5" y="231">5</text><text x="816.4" y="231">6</text><text x="829.3" y="231">7</text><text x="842.2" y="231">8</text><text x="855.1" y="231">9</text>
<text x="797" y="235.5" font-weight="bold">Post-infusion (Months)</text>
</g>
<rect x="818" y="165" width="5" height="2" fill="#b0b0b0"/><rect x="818" y="170" width="5" height="2" fill="#1a1ad6"/><rect x="818" y="175" width="5" height="2" fill="#2db37a"/>
<g font-size="2.8" fill="#333"><text x="825" y="167">Infusion</text><text x="825" y="172">CR</text><text x="825" y="177">PR</text><text x="853" y="167">× Death</text><text x="853" y="172">&gt; alive</text></g>
<g font-size="5.6" font-weight="bold" fill="#222">
<text x="707" y="241">High response rate</text>
<text x="707" y="247.7">•  The ORR at LD and NLD cohort were both 100%</text>
<text x="707" y="254.7">•  The CRR in NLD cohort was 75%</text>
</g>
<g font-size="5.2" fill="#222">
<text x="707" y="260.3" textLength="166" lengthAdjust="spacing" font-weight="bold">Fig.6 Efficacy results in rrB-NHL of BZE2204. A) Swimmer plot</text>
<text x="707" y="267.7" textLength="166" lengthAdjust="spacing">showing the follow-up status and time after CAR-T infusion; <tspan font-weight="bold">B)</tspan></text>
<text x="707" y="275" textLength="166" lengthAdjust="spacing"><tspan font-weight="bold">Representative patient PET-CT in LD cohort.</tspan> PET evaluation</text>
<text x="707" y="282.3" textLength="166" lengthAdjust="spacing">showed complete response on D28 and continue response (M6) <tspan font-weight="bold">C)</tspan></text>
<text x="707" y="289.7" textLength="166" lengthAdjust="spacing"><tspan font-weight="bold">Representative patient PET-CT in NLD cohort.</tspan> PET evaluation</text>
<text x="707" y="297">showed partial response on D28 and complete response at M3.</text>
</g>
<g font-size="5" font-weight="bold" fill="#222">
<text x="872" y="144">B</text><text x="882" y="144" text-decoration="underline">Patient S0117-LD</text>
<text x="913" y="154" text-anchor="middle">Baseline</text><text x="970" y="154" text-anchor="middle">M2</text><text x="1031" y="154" text-anchor="middle">M6</text>
<text x="873" y="225">C</text><text x="883" y="225" text-decoration="underline">Patient S0133-NLD</text>
<text x="913" y="234" text-anchor="middle">Baseline</text><text x="976" y="234" text-anchor="middle">D28</text><text x="1031" y="234" text-anchor="middle">M3</text>
</g>
<g>
<rect x="888" y="157" width="25" height="53" fill="#f7f7f7"/><ellipse cx="900.5" cy="184" rx="7" ry="22" fill="url(#gb)"/><ellipse cx="900.5" cy="162" rx="4" ry="4" fill="#333"/><circle cx="904" cy="170" r="2" fill="#222"/><ellipse cx="900.5" cy="206" rx="2.5" ry="1.8" fill="#111"/>
<rect x="916" y="157" width="30" height="53" fill="#1a0805"/><ellipse cx="931" cy="185" rx="11" ry="24" fill="url(#rb)"/><rect x="930" y="163" width="2" height="45" fill="#f0c080"/><circle cx="931" cy="161" r="3.5" fill="#f3d060"/>
<rect x="952" y="157" width="16" height="53" fill="#f7f7f7"/><ellipse cx="960" cy="184" rx="6" ry="22" fill="url(#gb)"/><ellipse cx="960" cy="162" rx="3.5" ry="3.5" fill="#444"/><ellipse cx="960" cy="206" rx="2.2" ry="1.6" fill="#111"/><rect x="960" y="163" width="8" height="7" fill="none" stroke="#e05050" stroke-width=".4"/>
<rect x="972" y="157" width="30" height="53" fill="#1a0805"/><ellipse cx="987" cy="185" rx="11" ry="24" fill="url(#rb)"/><rect x="986" y="163" width="2" height="45" fill="#f0c080"/><circle cx="987" cy="161" r="3.5" fill="#f3d060"/>
<rect x="1007" y="157" width="23" height="53" fill="#f7f7f7"/><ellipse cx="1018.5" cy="184" rx="7" ry="22" fill="url(#gb)"/><ellipse cx="1018.5" cy="162" rx="4" ry="4" fill="#444"/><ellipse cx="1018.5" cy="206" rx="2.5" ry="1.8" fill="#111"/>
<rect x="1033" y="157" width="30" height="53" fill="#1a0805"/><ellipse cx="1048" cy="185" rx="11" ry="24" fill="url(#rb)"/><rect x="1047" y="163" width="2" height="45" fill="#f0c080"/><circle cx="1048" cy="161" r="3.5" fill="#f3d060"/>
<rect x="888" y="237" width="27" height="55" fill="#f7f7f7"/><ellipse cx="901.5" cy="264" rx="7" ry="23" fill="url(#gb)"/><ellipse cx="901.5" cy="241" rx="4" ry="3.5" fill="#222"/><ellipse cx="905" cy="268" rx="3" ry="4" fill="#111"/><rect x="899" y="262" width="12" height="13" fill="none" stroke="#e05050" stroke-width=".5"/><ellipse cx="901.5" cy="288" rx="2.5" ry="1.8" fill="#111"/>
<rect x="918" y="237" width="30" height="55" fill="#1a0805"/><ellipse cx="933" cy="266" rx="11" ry="25" fill="url(#rb)"/><rect x="932" y="243" width="2" height="46" fill="#f0c080"/><circle cx="933" cy="241" r="3.5" fill="#f3d060"/>
<rect x="953" y="237" width="20" height="55" fill="#f7f7f7"/><ellipse cx="963" cy="264" rx="7" ry="23" fill="url(#gb)"/><ellipse cx="963" cy="241" rx="3.5" ry="3.5" fill="#222"/><circle cx="964" cy="251" r="2" fill="#111"/><rect x="962" y="262" width="10" height="12" fill="none" stroke="#e05050" stroke-width=".5"/><ellipse cx="963" cy="288" rx="2.3" ry="1.7" fill="#111"/>
<rect x="977" y="237" width="28" height="55" fill="#1a0805"/><ellipse cx="991" cy="266" rx="10" ry="25" fill="url(#rb)"/><rect x="990" y="243" width="2" height="46" fill="#f0c080"/><circle cx="991" cy="241" r="3.5" fill="#f3d060"/><circle cx="993" cy="255" r="1.5" fill="#f3d060"/>
<rect x="1010" y="237" width="20" height="55" fill="#f7f7f7"/><ellipse cx="1020" cy="264" rx="7" ry="23" fill="url(#gb)"/><ellipse cx="1020" cy="241" rx="3.5" ry="3.5" fill="#222"/><circle cx="1021" cy="250" r="2" fill="#111"/><rect x="1018" y="264" width="10" height="12" fill="none" stroke="#e05050" stroke-width=".5"/><ellipse cx="1020" cy="288" rx="2.3" ry="1.7" fill="#111"/>
<rect x="1033" y="237" width="30" height="55" fill="#1a0805"/><ellipse cx="1048" cy="266" rx="11" ry="25" fill="url(#rb)"/><rect x="1047" y="243" width="2" height="46" fill="#f0c080"/><circle cx="1048" cy="241" r="3.5" fill="#f3d060"/><circle cx="1049" cy="255" r="1.5" fill="#f3d060"/>
</g>

<!-- SAFETY -->
<text x="707" y="309.5" font-size="6.8" font-weight="bold" fill="#222">Safety Results</text>
<rect x="712" y="315" width="200" height="18" fill="#d3dae6"/>
<g fill="#dde5f0"><rect x="712" y="340" width="200" height="8"/><rect x="712" y="357" width="200" height="12"/><rect x="712" y="380" width="200" height="9"/><rect x="712" y="401" width="200" height="10"/></g>
<g class="serif" font-size="4.9" fill="#222">
<text x="755" y="322.5">Preferred</text><text x="755" y="327.5">Term</text>
<text x="821" y="326" text-anchor="middle" font-weight="bold">BZE2204-6h-LD</text><text x="881" y="326" text-anchor="middle" font-weight="bold">BZE2204-6h-NLD</text>
<text x="713" y="338" font-weight="bold">Sample Size</text><text x="820" y="338" text-anchor="middle">5</text><text x="881" y="338" text-anchor="middle">3</text>
<g text-anchor="middle"><text x="805" y="345.5">Any grade</text><text x="836" y="345.5">≥Grade 3</text><text x="866" y="345.5">Any grade</text><text x="897" y="345.5">≥Grade 3</text></g>
<text x="713" y="354.5" font-weight="bold">Immunologic</text><text x="755" y="354.5">CRS</text>
<text x="713" y="364.5" font-weight="bold">Neurologic</text><text x="755" y="362">Neurologic</text><text x="755" y="367">Events</text>
<text x="713" y="377" font-weight="bold">Infections</text><text x="755" y="377">Infections</text>
<text x="713" y="386.5" font-weight="bold">Hematologic</text><text x="755" y="386.5">Neutropenia</text>
<text x="755" y="393">Thrombocytop</text><text x="755" y="398">enia</text>
<text x="755" y="408">Anemia</text>
<g text-anchor="middle">
<text x="805" y="354.5">5/5</text><text x="836" y="354.5">0</text><text x="866" y="354.5">2/3</text><text x="897" y="354.5">0</text>
<text x="805" y="364.5">2/5</text><text x="836" y="364.5">0</text><text x="866" y="364.5">1/3</text><text x="897" y="364.5">0</text>
<text x="805" y="377">2/5</text><text x="836" y="377">1/5</text><text x="866" y="377">1/3</text><text x="897" y="377">0</text>
<text x="805" y="386.5">5/5</text><text x="836" y="386.5">4/5</text><text x="866" y="386.5">3/3</text><text x="897" y="386.5">0</text>
<text x="805" y="396.5">4/5</text><text x="836" y="396.5">2/5</text><text x="866" y="396.5">3/3</text><text x="897" y="396.5">0</text>
<text x="805" y="408">4/5</text><text x="836" y="408">1/5</text><text x="866" y="408">3/3</text><text x="897" y="408">0</text>
</g></g>
<g font-size="5.2" font-weight="bold" fill="#222">
<text x="920" y="320">The safety profile of BZE2204:</text>
<text x="920" y="328">-</text><text x="928" y="328" textLength="135" lengthAdjust="spacing">The CRS and ICANS were all low grade events in</text>
<text x="928" y="335.5">both LD and NLD cohorts</text>
<text x="920" y="343">-</text><text x="928" y="343" textLength="135" lengthAdjust="spacing">High grade infections have not been observed in NLD</text>
<text x="928" y="350">cohort</text>
<text x="920" y="358">-</text><text x="928" y="358" textLength="135" lengthAdjust="spacing">Compared to LD cohort, patients in NLD cohort had</text>
<text x="928" y="365" textLength="135" lengthAdjust="spacing">lower grade of hematological toxicity, which also</text>
<text x="928" y="372">recover faster.</text>
<text x="920" y="379">-</text><text x="928" y="379" textLength="135" lengthAdjust="spacing">The NLD treatment reduced the occurrence of severe</text>
<text x="928" y="385.5">cytopenia and possible infections</text>
</g>
<g font-size="5" font-weight="bold" fill="#222"><text x="928" y="404">Table 2. AESI and hematological toxicity of</text><text x="928" y="410">BZE2204 (LD and NLD).</text></g>

<!-- PK -->
<text x="707" y="427.5" font-size="6.3" font-weight="bold" fill="#222">Clinical Pharmacokinetics Data for BZE2204 (LD and NLD)</text>
<g font-size="4.6" font-weight="bold" fill="#222"><text x="712" y="455">A</text><text x="808" y="455">B</text><text x="892" y="455">C</text><text x="979" y="455">D</text><text x="712" y="510">E</text><text x="808" y="510">F</text><text x="892" y="511">G</text><text x="979" y="511">H</text></g>
<g font-size="2.6" fill="#444" text-anchor="middle">
<text x="746" y="441">BZE2204-6h-LD CAR Count</text><text x="842" y="441">BZE2204-6h-NLD CAR Count</text><text x="936" y="443">Cmax CAR-Tcf</text><text x="1026" y="443">AUC d0-28 (CAR-T/uL)</text>
<text x="746" y="500">BZE2204-LD-PK-FC3</text><text x="842" y="500">BZE2204-NLD-PK-FC3</text><text x="936" y="502">Cmax Copying DNA</text><text x="1026" y="502">AUC0-28(Copying DNA/ug)</text>
<text x="746" y="491">Days post-infusion</text><text x="842" y="491">Days post-infusion</text><text x="746" y="556">Days post-infusion</text><text x="842" y="556">Days post-infusion</text>
</g>
<g stroke="#333" stroke-width=".4" fill="none">
<path d="M723 443 V483 H770"/><path d="M815 443 V483 H868"/><path d="M723 501 V552 H770"/><path d="M815 501 V552 H868"/>
<path d="M905 447 V487 H968"/><path d="M998 447 V487 H1057"/><path d="M905 504 V548 H968"/><path d="M998 504 V548 H1057"/>
</g>
<g stroke="#999" stroke-width=".3"><line x1="723" y1="537" x2="770" y2="537"/><line x1="815" y1="537" x2="868" y2="537"/></g>
<g fill="none" stroke-width=".6">
<polyline points="725,474 729,472 733,470 737,465 741,449 745,450 749,452 753,455 757,458 761,460 765,465 768,462" stroke="#7b68ee"/>
<polyline points="725,476 729,475 733,472 737,468 741,452 745,455 749,457 753,456 757,460 761,466 765,470 768,468" stroke="#9370db"/>
<polyline points="725,473 729,477 733,474 737,466 741,454 745,453 749,458 753,461 757,462 761,468 765,474" stroke="#da70d6"/>
<polyline points="725,478 729,476 733,475 737,470 741,456 745,458 749,460 753,459 757,463 761,470" stroke="#ff8fab"/>
<polyline points="817,472 821,470 825,465 829,448 833,452 837,455 841,457 845,460 849,465 853,470 857,475 862,478" stroke="#e84a6a"/>
<polyline points="817,470 821,476 825,462 829,455 833,454 837,457 841,460 845,462 849,466 853,471 857,476" stroke="#9370db"/>
<polyline points="817,476 821,472 825,470 829,458 833,455 837,456 841,458 845,461 849,464" stroke="#ff9fb0"/>
<polyline points="725,520 729,540 733,528 737,505 741,503 745,504 749,505 753,506 757,507 761,510 764,525 768,530" stroke="#7b68ee"/>
<polyline points="725,530 729,545 733,535 737,508 741,504 745,505 749,506 753,506 757,508 761,512 764,535 768,540" stroke="#4a3ab0"/>
<polyline points="725,525 729,532 733,522 737,510 741,506 745,506 749,507 753,508 757,510 761,514 764,528" stroke="#da70d6"/>
<polyline points="817,540 821,535 825,522 829,508 833,509 837,511 841,513 845,516 849,520 853,525 857,535 862,545" stroke="#e84a6a"/>
<polyline points="817,550 821,540 825,545 829,512 833,508 837,510 841,512 845,514 849,517 853,522 857,530 862,542" stroke="#7b68ee"/>
<polyline points="817,530 821,528 825,520 829,510 833,510 837,512 841,515 845,518 849,523 853,528 857,536" stroke="#ff9fb0"/>
</g>
<g font-size="2.3" fill="#555">
<text x="776" y="454">S0117-6-004 · 5E4</text><text x="776" y="458">S0121-6-004 · 5E4</text><text x="776" y="462">S0138-6-003 · 2E5</text><text x="776" y="466">S0133-3-001 · 2E5</text><text x="776" y="470">S0155 · 2E5</text>
<text x="869" y="449">S0134-2-003</text><text x="869" y="453">S0147-6-002</text><text x="869" y="457">S0136-6-002</text>
<text x="776" y="512">S0117-6-004 · 5E4</text><text x="776" y="516">S0121-6-004 · 5E4</text><text x="776" y="520">S0138-6-003 · 2E5</text><text x="776" y="524">S0133-3-001 · 2E5</text><text x="776" y="528">S0155 · 2E5</text>
<text x="869" y="512">S0134-2-003</text><text x="869" y="516">S0147-6-002</text><text x="869" y="520">S0136-6-002</text>
</g>
<g stroke-width=".5">
<rect x="909" y="482" width="7" height="5" fill="#e2b8ea" stroke="#a060b0"/>
<rect x="920" y="485" width="7" height="2" fill="#c090d0" stroke="#8a4aa0"/>
<rect x="931" y="476" width="7" height="11" fill="#7a2a8a"/>
<rect x="942" y="462" width="8" height="25" fill="#0e4a4a"/>
<rect x="954" y="466" width="8" height="21" fill="#9ab0d8"/>
<rect x="1002" y="483" width="7" height="4" fill="#e2b8ea" stroke="#a060b0"/>
<rect x="1013" y="486" width="7" height="1" fill="#c090d0"/>
<rect x="1024" y="477" width="7" height="10" fill="#7a2a8a"/>
<rect x="1035" y="462" width="8" height="25" fill="#0e4a4a"/>
<rect x="1047" y="469" width="8" height="18" fill="#9ab0d8"/>
</g>
<g stroke-width=".5" transform="translate(0,-5)">
<rect x="909" y="552" width="7" height="1" fill="#888"/>
<rect x="920" y="546" width="7" height="7" fill="#ece4c4" stroke="#a89a60"/>
<rect x="931" y="547" width="7" height="6" fill="#fff" stroke="#777"/>
<rect x="942" y="545" width="7" height="8" fill="#bfe3da" stroke="#5a9a8a"/>
<rect x="952" y="516" width="8" height="37" fill="#0e4a4a"/>
<rect x="963" y="526" width="8" height="27" fill="#9ab0d8"/>
<rect x="1002" y="552" width="7" height="1" fill="#888"/>
<rect x="1013" y="546" width="7" height="7" fill="#ece4c4" stroke="#a89a60"/>
<rect x="1024" y="545" width="7" height="8" fill="#fff" stroke="#777"/>
<rect x="1035" y="552" width="7" height="1" fill="#888"/>
<rect x="1045" y="516" width="8" height="37" fill="#0e4a4a"/>
<rect x="1056" y="526" width="6" height="27" fill="#9ab0d8"/>
</g>
<g fill="#333" font-size="3"><text x="944" y="458">*</text><text x="956" y="464">*</text><text x="1037" y="459">*</text><text x="1049" y="466">*</text><text x="954" y="508">*</text><text x="1047" y="508">*</text></g>
<g font-size="2.3" fill="#555">
<text transform="translate(912 496) rotate(-40)">Tecartus (CD19)</text><text transform="translate(923 496) rotate(-40)">Carvykti (BCMA)</text><text transform="translate(934 496) rotate(-40)">BMK3</text><text transform="translate(946 496) rotate(-40)">BZE2204-LD</text><text transform="translate(958 496) rotate(-40)">BZE2204-NLD</text>
<text transform="translate(1005 496) rotate(-40)">Tecartus (CD19)</text><text transform="translate(1016 496) rotate(-40)">Carvykti (BCMA)</text><text transform="translate(1027 496) rotate(-40)">BMK3</text><text transform="translate(1039 496) rotate(-40)">BZE2204-LD</text><text transform="translate(1051 496) rotate(-40)">BZE2204-NLD</text>
</g>
<g font-size="1.9" fill="#555">
<text transform="translate(911 554.5) rotate(-40)">Kymriah</text><text transform="translate(922 554.5) rotate(-40)">Yescarta</text><text transform="translate(933 554.5) rotate(-40)">Breyanzi</text><text transform="translate(944 554.5) rotate(-40)">BMK</text><text transform="translate(955 554.5) rotate(-40)">BZE2204-LD</text><text transform="translate(966 554.5) rotate(-40)">BZE2204-NLD</text>
<text transform="translate(1004 554.5) rotate(-40)">Kymriah</text><text transform="translate(1015 554.5) rotate(-40)">Yescarta</text><text transform="translate(1026 554.5) rotate(-40)">Breyanzi</text><text transform="translate(1047 554.5) rotate(-40)">BZE2204-LD</text>
</g>
<g font-size="2.5" fill="#444"><text transform="translate(901 475) rotate(-90)">CAR-T cells/uL</text><text transform="translate(993 482) rotate(-90)">AUC(CAR-T cells/uL)</text><text transform="translate(901 539) rotate(-90)">CAR copying DNA</text><text transform="translate(993 543) rotate(-90)">AUC d0-28 CAR copies/ug</text></g>
<g font-size="5" fill="#222">
<text x="717" y="557.7" textLength="345" lengthAdjust="spacing"><tspan font-weight="bold">Fig.7 Pharmacokinetics analysis of BZE2204 CAR-T cells. A,E)</tspan> BZE2204 CAR-T products showed robust expansion post CAR-T infusion in</text>
<text x="717" y="562.9" textLength="345" lengthAdjust="spacing">LD patients. <tspan font-weight="bold">B,F)</tspan> BZE2204 CAR-T products exhibit robust expansion post CAR-T infusion in NLD patients. <tspan font-weight="bold">C,G)</tspan> BZE2204 CAR-T in patients with</text>
<text x="717" y="568.1" textLength="345" lengthAdjust="spacing">LD displayed higher pharmacokinetics(PK) than CAR-T products on market or under investigation (BMK1-3). <tspan font-weight="bold">D,H)</tspan> BZE2204 CAR-T in patients</text>
<text x="717" y="573.3">without LD displayed higher pharmacokinetics(PK) than CAR-T products on market or under investigation (BMK1-3).</text>
</g>
<!-- CONCLUSION -->
<g font-size="7" fill="#333">
<text x="707" y="619.8">1.</text><text x="717" y="619.8" textLength="334" lengthAdjust="spacing">The 6-hour rapidly manufactured tri-target CD19/CD22/BCMA CAR-T cells using the JL-Lightning-</text>
<text x="717" y="627.5">CAR-T platform demonstrated high efficacy and favorable tolerability in rrB-NHL patients.</text>
<text x="707" y="634.8">2.</text><text x="717" y="634.8" textLength="336" lengthAdjust="spacing">The non-lymphodepletion treatment showed significant advantages in reduced toxicity and infections,</text>
<text x="717" y="642.5">while maintained robust antitumor efficacy.</text>
<text x="707" y="650.2">3.</text><text x="717" y="650.2" textLength="328" lengthAdjust="spacing">These findings highlight the clinical applicability of the 6-hour rapid CAR-T manufactory platform,</text>
<text x="717" y="657.8" textLength="325" lengthAdjust="spacing">particularly in the non-lymphodepletion setting, to improve patient outcomes for rrB-NHL and other</text>
<text x="717" y="665.2">B-cell-related diseases. (ClinicalTrials.gov ID: NCT06446128)</text>
</g>
</svg>
</body></html>
